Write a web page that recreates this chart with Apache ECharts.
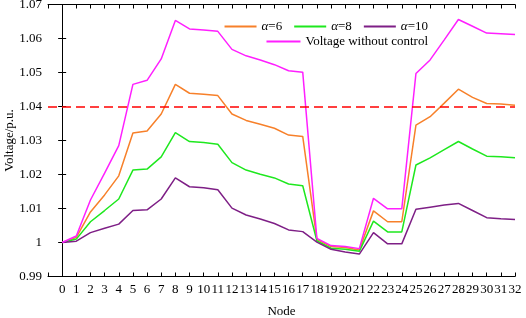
<!DOCTYPE html>
<html>
<head>
<meta charset="utf-8">
<script src="https://cdn.jsdelivr.net/npm/echarts@6/dist/echarts.min.js"></script>
<style>
  html, body { margin: 0; padding: 0; background: #fff; }
  #chart { width: 526px; height: 318px; }
</style>
</head>
<body>
<div id="chart"></div>
<script>
// 节点编号
var nodes = [0, 1, 2, 3, 4, 5, 6, 7, 8, 9, 10, 11, 12, 13, 14, 15, 16, 17, 18, 19, 20, 21, 22, 23, 24, 25, 26, 27, 28, 29, 30, 31, 32];

// 各节点电压 (p.u.)
var alpha6 = [1.0, 1.0015, 1.009, 1.014, 1.0196, 1.0322, 1.0328, 1.0378, 1.0465, 1.0439, 1.0436, 1.0432, 1.0378, 1.0359, 1.0348, 1.0336, 1.0316, 1.0312, 1.0009, 0.9988, 0.9985, 0.9978, 1.0093, 1.0061, 1.0061, 1.0345, 1.037, 1.041, 1.0451, 1.0427, 1.0409, 1.0407, 1.0404];
var alpha8 = [1.0, 1.001, 1.0061, 1.0094, 1.0128, 1.0213, 1.0216, 1.0252, 1.0323, 1.0297, 1.0294, 1.0289, 1.0235, 1.0213, 1.0201, 1.019, 1.0172, 1.0167, 1.0005, 0.9983, 0.998, 0.9974, 1.0063, 1.0031, 1.0031, 1.0228, 1.0249, 1.0273, 1.0297, 1.0275, 1.0254, 1.0252, 1.0249];
var alpha10 = [1.0, 1.0004, 1.0029, 1.0042, 1.0054, 1.0094, 1.0096, 1.0128, 1.019, 1.0164, 1.0161, 1.0155, 1.0101, 1.0081, 1.0069, 1.0056, 1.0037, 1.0032, 1.0001, 0.998, 0.9972, 0.9966, 1.0029, 0.9996, 0.9996, 1.0098, 1.0104, 1.011, 1.0115, 1.0094, 1.0073, 1.007, 1.0068];
var noControl = [1.0, 1.0019, 1.0125, 1.0204, 1.0285, 1.0465, 1.0477, 1.054, 1.0653, 1.0628, 1.0625, 1.0621, 1.0568, 1.0549, 1.0537, 1.0523, 1.0505, 1.0501, 1.0012, 0.9991, 0.9988, 0.9982, 1.013, 1.0099, 1.0099, 1.0497, 1.0537, 1.0596, 1.0656, 1.0636, 1.0616, 1.0614, 1.0612];
var limitValue = 1.04;

var font = '"Liberation Serif", "Times New Roman", serif';

function pairs(values) {
  return nodes.map(function (n, i) { return [n, values[i]]; });
}

function lineSeries(name, values, color) {
  return {
    name: name,
    type: 'line',
    data: pairs(values),
    symbol: 'none',
    lineStyle: { color: color, width: 1.5 },
    itemStyle: { color: color },
    animation: false
  };
}

var chart = echarts.init(document.getElementById('chart'));

var legendText = {
  fontFamily: font,
  fontSize: 13,
  color: '#000',
  rich: {
    i: { fontFamily: font, fontSize: 13, fontStyle: 'italic', color: '#000' }
  }
};
function legendFormatter(name) {
  return name.charAt(0) === 'α' ? '{i|α}' + name.slice(1) : name;
}

var axisCommon = {
  axisLine: { show: true, lineStyle: { color: '#000', width: 1 } },
  axisTick: { show: true, inside: true, length: 4, lineStyle: { color: '#000' } },
  splitLine: { show: false }
};

var option = {
  backgroundColor: '#fff',
  animation: false,
  grid: { left: 48, right: 11, top: 4.5, bottom: 41.5, containLabel: false, outerBoundsMode: 'none' },
  legend: [
    {
      data: ['α=6', 'α=8', 'α=10'],
      right: 93,
      top: 15,
      icon: 'rect',
      itemWidth: 32,
      itemHeight: 2,
      itemGap: 12,
      textStyle: legendText,
      formatter: legendFormatter
    },
    {
      data: ['Voltage without control'],
      right: 93,
      top: 30,
      icon: 'rect',
      itemWidth: 34,
      itemHeight: 2,
      textStyle: legendText
    }
  ],
  xAxis: [
    Object.assign({
      type: 'value',
      min: -1,
      max: 32,
      interval: 1,
      name: 'Node',
      nameLocation: 'middle',
      nameGap: 29,
      nameMoveOverlap: false,
      nameTextStyle: { fontFamily: font, fontSize: 13, color: '#000' },
      axisLabel: {
        fontFamily: font,
        fontSize: 13,
        color: '#000',
        margin: 7,
        formatter: function (v) { return v < 0 ? '' : String(v); }
      }
    }, axisCommon),
    Object.assign({
      type: 'value',
      position: 'top',
      min: -1,
      max: 32,
      interval: 1,
      axisLabel: { show: false }
    }, axisCommon)
  ],
  yAxis: [
    Object.assign({
      type: 'value',
      min: 0.99,
      max: 1.07,
      interval: 0.01,
      name: 'Voltage/p.u.',
      nameLocation: 'middle',
      nameGap: 32,
      nameMoveOverlap: false,
      nameTextStyle: { fontFamily: font, fontSize: 13, color: '#000' },
      axisLabel: {
        fontFamily: font,
        fontSize: 13,
        color: '#000',
        margin: 6,
        formatter: function (v) { return String(+v.toFixed(2)); }
      }
    }, axisCommon),
    Object.assign({
      type: 'value',
      position: 'right',
      min: 0.99,
      max: 1.07,
      interval: 0.01,
      axisLabel: { show: false }
    }, axisCommon)
  ],
  series: [
    lineSeries('α=6', alpha6, '#F7802A'),
    lineSeries('α=8', alpha8, '#1EE81E'),
    lineSeries('α=10', alpha10, '#7E1F86'),
    Object.assign(lineSeries('Voltage without control', noControl, '#FF1FFF'), {
      markLine: {
        silent: true,
        symbol: 'none',
        label: { show: false },
        lineStyle: { color: '#FF0000', type: [9, 5], width: 1.5 },
        data: [{ yAxis: limitValue }]
      }
    })
  ]
};

chart.setOption(option);
</script>
</body>
</html>
